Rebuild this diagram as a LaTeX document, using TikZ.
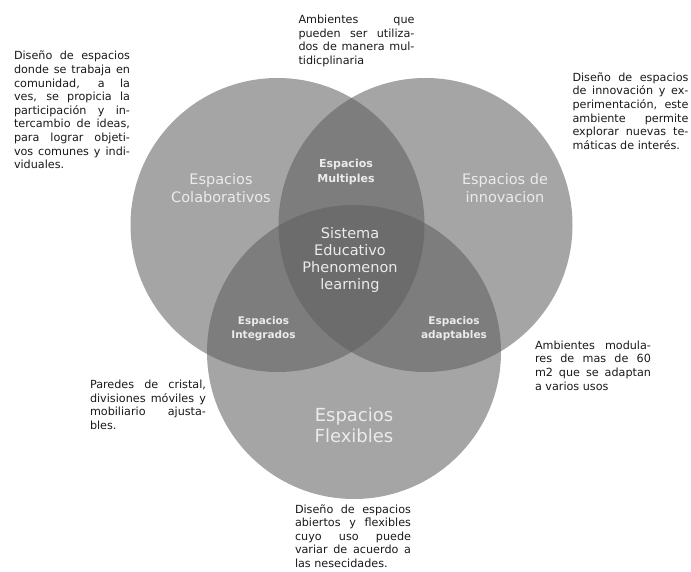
\documentclass[tikz,border=0pt]{standalone}
\usepackage{fontspec}
\setmainfont{DejaVu Sans}
\newcommand{\jl}[1]{\makebox[116pt][s]{#1}}

\begin{document}
\begin{tikzpicture}[x=1pt,y=-1pt,
    zona/.style={circle,minimum size=294pt,inner sep=0pt,fill=black!63,fill opacity=0.56},
    rotulo/.style={align=center,text=white!92!black,inner sep=0pt},
    nota/.style={align=left,text=black!90,inner sep=0pt,font=\fontsize{11.2}{13.6}\selectfont}]
    \useasboundingbox (0,0) rectangle (691,572);

    \node[zona](C) at (277.5,225) {};
    \node[zona](I) at (425.5,225) {};
    \node[zona](F) at (354,352) {};

    \node[rotulo,font=\fontsize{14.5}{18}\selectfont](Ct) at (221,188) {Espacios\\Colaborativos};
    \node[rotulo,font=\fontsize{14.5}{18}\selectfont](It) at (505,188) {Espacios de\\innovacion};
    \node[rotulo,font=\fontsize{18}{21}\selectfont](Ft) at (354,425) {Espacios\\Flexibles};
    \node[rotulo,font=\bfseries\fontsize{11}{15}\selectfont](Mt) at (346,172) {Espacios\\Multiples};
    \node[rotulo,font=\bfseries\fontsize{10.5}{14}\selectfont](Gt) at (263.5,329) {Espacios\\Integrados};
    \node[rotulo,font=\bfseries\fontsize{10.5}{14}\selectfont](At) at (454,329) {Espacios\\adaptables};
    \node[rotulo,font=\fontsize{14.5}{16.7}\selectfont](St) at (350,260) {Sistema\\Educativo\\Phenomenon\\learning};

    \node[nota](Cn) at (72,110) {\jl{Diseño de espacios}\\\jl{donde se trabaja en}\\
        \jl{comunidad, a la}\\\jl{ves, se propicia la}\\\jl{participación y in-}\\
        \jl{tercambio de ideas,}\\\jl{para lograr objeti-}\\\jl{vos comunes y indi-}\\viduales.};
    \node[nota](Mn) at (356.5,41) {\jl{Ambientes que}\\\jl{pueden ser utiliza-}\\
        \jl{dos de manera mul-}\\tidicplinaria};
    \node[nota](In) at (630.5,111) {\jl{Diseño de espacios}\\\jl{de innovación y ex-}\\
        \jl{perimentación, este}\\\jl{ambiente permite}\\\jl{explorar nuevas te-}\\máticas de interés.};
    \node[nota](An) at (593,365.5) {\jl{Ambientes modula-}\\\jl{res de mas de 60}\\
        \jl{m2 que se adaptan}\\a varios usos};
    \node[nota](Gn) at (148,405) {\jl{Paredes de cristal,}\\\jl{divisiones móviles y}\\
        \jl{mobiliario ajusta-}\\bles.};
    \node[nota](Fn) at (353,536) {\jl{Diseño de espacios}\\\jl{abiertos y flexibles}\\
        \jl{cuyo uso puede}\\\jl{variar de acuerdo a}\\las nesecidades.};
\end{tikzpicture}
\end{document}
